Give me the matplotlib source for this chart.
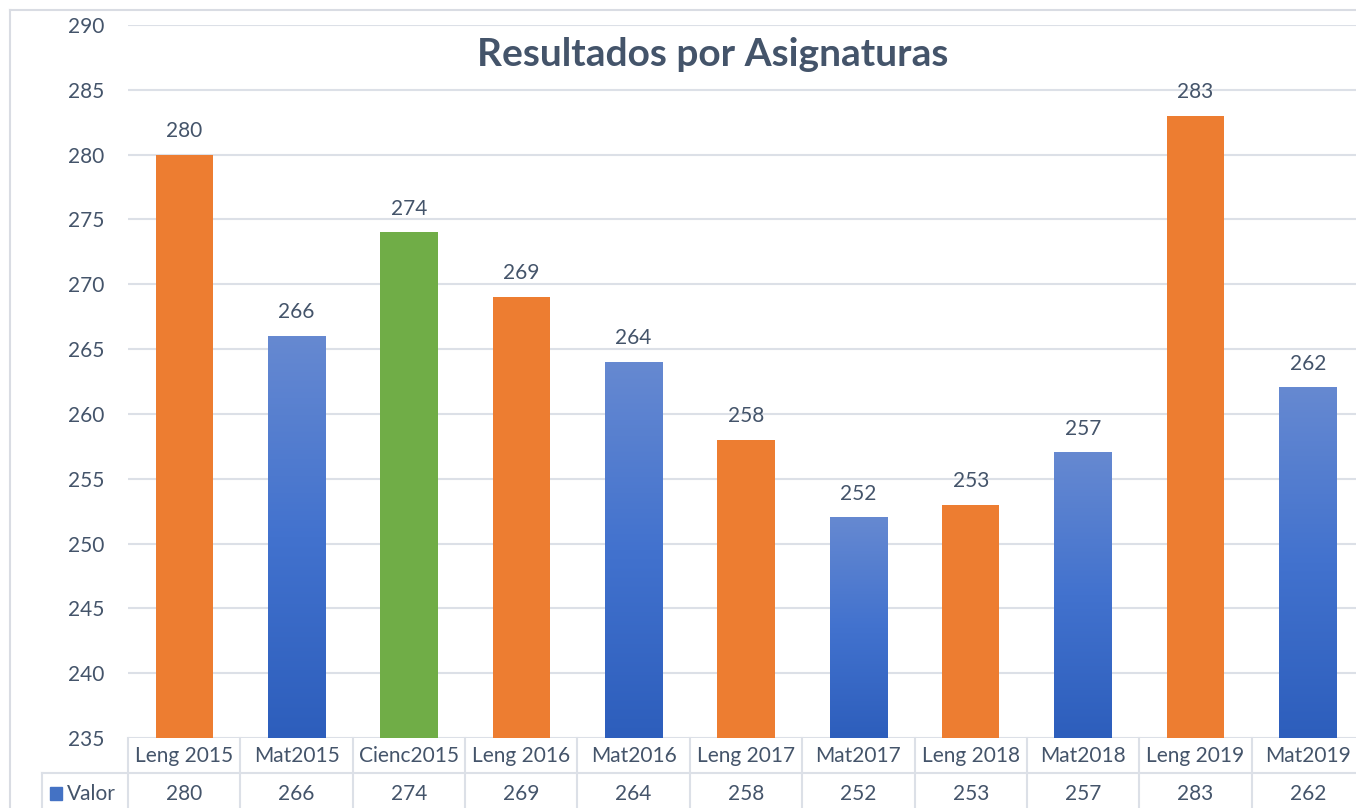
import matplotlib.pyplot as plt
import numpy as np
from matplotlib.colors import LinearSegmentedColormap
from matplotlib.lines import Line2D
from matplotlib.patches import Rectangle
from matplotlib.transforms import blended_transform_factory

# Datos del gráfico
categorias = ['Leng 2015', 'Mat2015', 'Cienc2015', 'Leng 2016', 'Mat2016',
              'Leng 2017', 'Mat2017', 'Leng 2018', 'Mat2018', 'Leng 2019', 'Mat2019']
valores = [280, 266, 274, 269, 264, 258, 252, 253, 257, 283, 262]
asignatura = ['leng', 'mat', 'cienc', 'leng', 'mat', 'leng', 'mat', 'leng', 'mat', 'leng', 'mat']
y_ticks = list(range(235, 291, 5))

plt.rcParams['font.family'] = ['Lato', 'DejaVu Sans']
TXT = '#44546A'
GRID = '#DCE0E7'
FS = 15
colores = {'leng': '#ED7D31', 'cienc': '#70AD47'}
azul = LinearSegmentedColormap.from_list('azul', ['#2D5EBC', '#4272CE', '#6689D1'])

W, H = 1356, 808
fig = plt.figure(figsize=(W / 100, H / 100), dpi=100)


def fx(px):
    return px / W


def fy(py):
    return 1 - py / H


ax = fig.add_axes([fx(128), fy(738), fx(1364) - fx(128), fy(25) - fy(738)])
n = len(categorias)
ymin, ymax = 235, 290

# Barras
for i, (v, a) in enumerate(zip(valores, asignatura)):
    if a == 'mat':
        grad = np.linspace(0, 1, 256).reshape(-1, 1)
        ax.imshow(grad, cmap=azul, origin='lower', aspect='auto',
                  extent=[i - 0.255, i + 0.255, ymin, v], zorder=2)
    else:
        ax.bar(i, v - ymin, bottom=ymin, width=0.51, color=colores[a], zorder=2)
    ax.annotate(str(v), (i, v), xytext=(0, 10), textcoords='offset points',
                ha='center', va='bottom', fontsize=FS, color=TXT)

ax.set_xlim(-0.5, n - 0.5)
ax.set_ylim(ymin, ymax)
ax.set_yticks(y_ticks)
ax.set_xticks([])
ax.yaxis.grid(True, color=GRID, linewidth=1.5, zorder=0)
ax.set_axisbelow(True)
for s in ax.spines.values():
    s.set_visible(False)
ax.tick_params(axis='y', length=0, pad=17, labelsize=FS, labelcolor=TXT)

# Título
fig.text(fx(713), fy(55), 'Resultados por Asignaturas', ha='center', va='center',
         fontsize=28, fontweight='bold', color=TXT)

# Tabla de datos
bt = blended_transform_factory(ax.transData, fig.transFigure)
for i, (c, v) in enumerate(zip(categorias, valores)):
    ax.text(i, fy(756), c, transform=bt, ha='center', va='center',
            fontsize=FS, color=TXT, clip_on=False)
    ax.text(i, fy(794), str(v), transform=bt, ha='center', va='center',
            fontsize=FS, color=TXT, clip_on=False)
for k in range(n + 1):
    fig.add_artist(Line2D([k - 0.5, k - 0.5], [fy(738), fy(810)], transform=bt,
                          color=GRID, linewidth=1.5))
fig.add_artist(Line2D([fx(42), 1], [fy(773), fy(773)], transform=fig.transFigure,
                      color=GRID, linewidth=1.5))
fig.add_artist(Line2D([fx(42), fx(42)], [fy(773), 0], transform=fig.transFigure,
                      color=GRID, linewidth=1.5))
fig.add_artist(Rectangle((fx(50), fy(800)), fx(12), fy(787) - fy(800),
                         transform=fig.transFigure, color='#4472C4'))
fig.text(fx(67), fy(794), 'Valor', ha='left', va='center', fontsize=FS, color=TXT)

# Borde del área del gráfico
fig.add_artist(Line2D([fx(10), fx(10)], [fy(10), 0], transform=fig.transFigure,
                      color='#D9DCE3', linewidth=1.5))
fig.add_artist(Line2D([fx(10), 1], [fy(10), fy(10)], transform=fig.transFigure,
                      color='#D9DCE3', linewidth=1.5))

fig.savefig('out.png', dpi=100)
